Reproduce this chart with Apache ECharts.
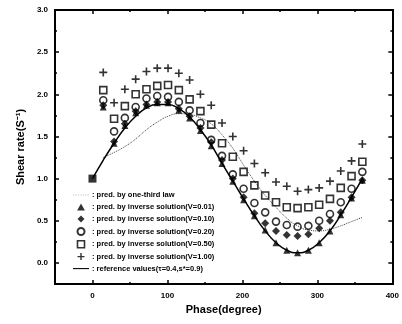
<!DOCTYPE html>
<html lang="en">
<head>
    <meta charset="UTF-8">
    <title>Shear rate vs phase</title>
    <script src="https://cdn.jsdelivr.net/npm/echarts@6/dist/echarts.min.js"></script>
    <style>
        html, body { margin: 0; padding: 0; background: #fff; }
        #main { width: 402px; height: 324px; }
    </style>
</head>
<body>
<div id="main"></div>
<script>
    // phase (degree), one sample every 14.4 deg
    const phase = [0, 14.4, 28.8, 43.2, 57.6, 72, 86.4, 100.8, 115.2, 129.6, 144, 158.4, 172.8,
        187.2, 201.6, 216, 230.4, 244.8, 259.2, 273.6, 288, 302.4, 316.8, 331.2, 345.6, 360];

    const oneThird = [null, 1.25, 1.31, 1.38, 1.47, 1.58, 1.67, 1.74, 1.77, 1.76, 1.72, 1.65, 1.52,
        1.36, 1.16, 0.97, 0.80, 0.66, 0.53, 0.44, 0.39, 0.38, 0.40, 0.44, 0.49, 0.54];
    const v001 = [null, 1.85, 1.42, 1.63, 1.78, 1.87, 1.90, 1.90, 1.81, 1.72, 1.57, 1.39, 1.18,
        0.97, 0.75, 0.56, 0.39, 0.24, 0.15, 0.12, 0.15, 0.24, 0.38, 0.57, 0.77, 0.98];
    const v010 = [null, 1.87, 1.44, 1.65, 1.80, 1.88, 1.91, 1.91, 1.83, 1.74, 1.60, 1.43, 1.22,
        1.00, 0.78, 0.59, 0.47, 0.38, 0.33, 0.32, 0.34, 0.41, 0.50, 0.60, 0.78, 0.98];
    const v020 = [null, 1.93, 1.56, 1.72, 1.85, 1.95, 1.98, 1.97, 1.91, 1.81, 1.66, 1.46, 1.27,
        1.05, 0.88, 0.71, 0.60, 0.49, 0.45, 0.43, 0.44, 0.50, 0.58, 0.72, 0.88, 1.08];
    const v050 = [null, 2.05, 1.71, 1.86, 2.00, 2.06, 2.10, 2.11, 2.05, 1.94, 1.80, 1.64, 1.42,
        1.26, 1.08, 0.92, 0.80, 0.72, 0.66, 0.65, 0.66, 0.69, 0.76, 0.89, 1.03, 1.20];
    const v100 = [null, 2.26, 1.90, 2.06, 2.18, 2.27, 2.31, 2.31, 2.25, 2.17, 2.00, 1.87, 1.66,
        1.50, 1.33, 1.18, 1.07, 0.96, 0.91, 0.85, 0.87, 0.89, 0.97, 1.09, 1.21, 1.41];
    const reference = [1.00, 1.22, 1.42, 1.60, 1.74, 1.84, 1.88, 1.88, 1.83, 1.73, 1.58, 1.40, 1.18,
        0.97, 0.76, 0.56, 0.38, 0.24, 0.15, 0.12, 0.15, 0.24, 0.38, 0.57, 0.78, 1.00];

    const xMajor = [0, 100, 200, 300, 400];
    const xMinor = [-50, 50, 150, 250, 350];
    const yMajor = [0, 0.5, 1.0, 1.5, 2.0, 2.5, 3.0];
    const yMinor = [-0.25, 0.25, 0.75, 1.25, 1.75, 2.25, 2.75];

    const names = [
        'pred. by one-third law',
        'pred. by inverse solution(V=0.01)',
        'pred. by inverse solution(V=0.10)',
        'pred. by inverse solution(V=0.20)',
        'pred. by inverse solution(V=0.50)',
        'pred. by inverse solution(V=1.00)',
        'reference values(τ=0.4,s*=0.9)'
    ];

    const font = 'Liberation Sans, Arial, sans-serif';
    const plus = 'path://M4,0H6V4H10V6H6V10H4V6H0V4H4Z';
    const tri = 'path://M5,0L10,9H0Z';
    const dia = 'path://M5,0L10,5L5,10L0,5Z';
    const sq = 'path://M0,0H10V10H0Z';
    const solidIcon = 'path://M0,0H30V2H0Z';
    const dotIcon = 'path://M0,0H1V1H0Z M3,0H4V1H3Z M6,0H7V1H6Z M9,0H10V1H9Z M12,0H13V1H12Z M15,0H16V1H15Z M18,0H19V1H18Z M21,0H22V1H21Z M24,0H25V1H24Z M27,0H28V1H27Z';

    function pairs(vals) {
        return phase.map((p, i) => [p, vals[i]]).filter(d => d[1] !== null);
    }

    function xAx(pos, ticks, len, labels) {
        return {
            type: 'value', position: pos, min: -50, max: 400,
            axisLine: {show: true, onZero: false, lineStyle: {color: '#000', width: 2}},
            axisTick: {show: true, inside: true, length: len, customValues: ticks, lineStyle: {color: '#000', width: 1.5}},
            axisLabel: labels ? {show: true, customValues: xMajor, color: '#000', fontSize: 8, fontWeight: 'bold', fontFamily: font, margin: 8} : {show: false},
            splitLine: {show: false}
        };
    }

    function yAx(pos, ticks, len, labels) {
        return {
            type: 'value', position: pos, min: -0.25, max: 3.0,
            axisLine: {show: true, onZero: false, lineStyle: {color: '#000', width: 2}},
            axisTick: {show: true, inside: true, length: len, customValues: ticks, lineStyle: {color: '#000', width: 1.5}},
            axisLabel: labels ? {show: true, customValues: yMajor, color: '#000', fontSize: 8, fontWeight: 'bold', fontFamily: font, margin: 7,
                formatter: v => v.toFixed(1)} : {show: false},
            splitLine: {show: false}
        };
    }

    const xAxes = [xAx('bottom', xMajor, 4, true), xAx('bottom', xMinor, 2, false), xAx('top', xMajor, 4, false), xAx('top', xMinor, 2, false)];
    xAxes[0].name = 'Phase(degree)';
    xAxes[0].nameLocation = 'middle';
    xAxes[0].nameGap = 13;
    xAxes[0].nameTextStyle = {color: '#000', fontSize: 11, fontWeight: 'bold', fontFamily: font};

    const yAxes = [yAx('left', yMajor, 4, true), yAx('left', yMinor, 2, false), yAx('right', yMajor, 4, false), yAx('right', yMinor, 2, false)];
    yAxes[0].name = 'Shear rate(S⁻¹)';
    yAxes[0].nameLocation = 'middle';
    yAxes[0].nameGap = 27;
    yAxes[0].nameTextStyle = {color: '#000', fontSize: 11, fontWeight: 'bold', fontFamily: font};

    function marks(name, vals, symbol, size, hollow) {
        return {
            name: name, type: 'scatter', data: pairs(vals),
            symbol: symbol, symbolSize: size,
            itemStyle: hollow ? {color: 'rgba(0,0,0,0)', borderColor: '#000', borderWidth: 1.6} : {color: '#000'},
            z: 3
        };
    }

    const chart = echarts.init(document.getElementById('main'));
    chart.setOption({
        animation: false,
        backgroundColor: '#fff',
        grid: {left: 55, right: 5, top: 10, bottom: 40},
        xAxis: xAxes,
        yAxis: yAxes,
        legend: {
            data: [
                {name: names[0], icon: dotIcon, itemStyle: {color: '#444', borderWidth: 0}},
                {name: names[1], icon: tri},
                {name: names[2], icon: dia},
                {name: names[3], icon: 'circle'},
                {name: names[4], icon: sq, itemStyle: {color: 'rgba(0,0,0,0)', borderColor: '#000', borderWidth: 1.6}},
                {name: names[5], icon: plus},
                {name: names[6], icon: solidIcon, itemStyle: {color: '#000', borderWidth: 0}}
            ],
            orient: 'vertical',
            left: 68, top: 186,
            itemWidth: 16, itemHeight: 7, itemGap: 4,
            symbolKeepAspect: true,
            formatter: n => ': ' + n,
            textStyle: {color: '#000', fontSize: 7.5, fontWeight: 'bold', fontFamily: font, padding: [0, 0, 0, -2]}
        },
        series: [
            {
                name: names[0], type: 'line', data: pairs(oneThird), smooth: true, symbol: 'none',
                lineStyle: {color: '#444', width: 1, type: 'dotted'}, itemStyle: {color: '#444'}
            },
            marks(names[1], v001, 'triangle', 7, false),
            marks(names[2], v010, 'diamond', 8, false),
            marks(names[3], v020, 'circle', 7, true),
            marks(names[4], v050, 'rect', 7, true),
            marks(names[5], v100, plus, 8, false),
            {
                name: names[6], type: 'line', data: pairs(reference), smooth: true, symbol: 'none',
                lineStyle: {color: '#000', width: 1.5}, itemStyle: {color: '#000'}
            },
            {
                name: 'start', type: 'scatter', data: [[phase[0], reference[0]]],
                symbol: 'rect', symbolSize: 8, itemStyle: {color: '#000'}
            }
        ]
    });
</script>
</body>
</html>
